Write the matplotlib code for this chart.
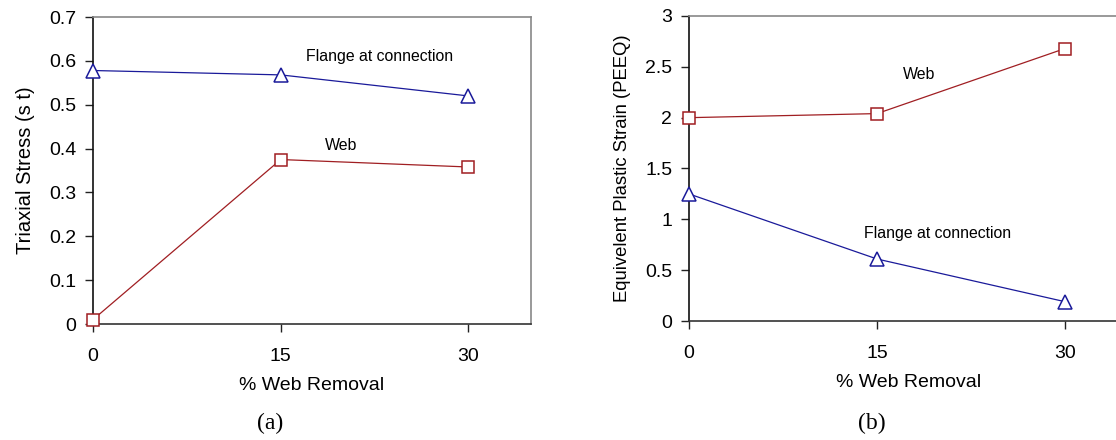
import matplotlib
matplotlib.use('Agg')
import matplotlib.pyplot as plt

plt.rcParams['font.family'] = ['Liberation Sans', 'DejaVu Sans']

# data
removal = [0, 15, 30]
xticks = [0, 15, 30]

stress_flange = [0.578, 0.568, 0.520]
stress_web = [0.010, 0.375, 0.358]

peeq_web = [2.00, 2.04, 2.68]
peeq_flange = [1.25, 0.61, 0.19]

blue = '#1a1a9a'
red = '#a01e22'


def style_axes(ax, ylim, yticks, ylabel, ylabel_size):
    ax.set_xlim(0, 35)
    ax.set_ylim(*ylim)
    ax.set_xticks(xticks)
    ax.set_yticks(yticks)
    ax.set_yticklabels([('%g' % v) for v in yticks])
    ax.tick_params(axis='both', direction='out', length=6, width=1,
                   labelsize=14, color='#222222')
    ax.tick_params(axis='y', pad=6)
    ax.tick_params(axis='x', pad=11)
    ax.spines['left'].set_color('#111111')
    ax.spines['bottom'].set_color('#333333')
    ax.spines['top'].set_color('#888888')
    ax.spines['right'].set_color('#888888')
    for s in ax.spines.values():
        s.set_linewidth(1.2)
    ax.set_xlabel('% Web Removal', fontsize=14, labelpad=9)
    ax.set_ylabel(ylabel, fontsize=ylabel_size, labelpad=10)


def plot_series(ax, y, color, marker, ms):
    ax.plot(removal, y, color=color, lw=0.9, marker=marker, ms=ms,
            mfc='white', mec=color, mew=1.1, clip_on=False, zorder=3)


fig = plt.figure(figsize=(11.16, 4.4), dpi=100)

# (a) triaxial stress
ax1 = fig.add_axes([93 / 1116, 116 / 440, 438 / 1116, 307 / 440])
plot_series(ax1, stress_flange, blue, '^', 10.5)
plot_series(ax1, stress_web, red, 's', 8.5)
style_axes(ax1, (0, 0.7), [0, 0.1, 0.2, 0.3, 0.4, 0.5, 0.6, 0.7],
           'Triaxial Stress (s t)', 14.5)
ax1.text(17.0, 0.609, 'Flange at connection', fontsize=11.4, va='center')
ax1.text(18.5, 0.406, 'Web', fontsize=11.4, va='center')

# (b) equivalent plastic strain
ax2 = fig.add_axes([689 / 1116, 119 / 440, 438.6 / 1116, 305 / 440])
plot_series(ax2, peeq_web, red, 's', 8.5)
plot_series(ax2, peeq_flange, blue, '^', 10.5)
style_axes(ax2, (0, 3), [0, 0.5, 1, 1.5, 2, 2.5, 3],
           'Equivelent Plastic Strain (PEEQ)', 13.3)
ax2.text(17.1, 2.42, 'Web', fontsize=11.4, va='center')
ax2.text(14.0, 0.86, 'Flange at connection', fontsize=11.4, va='center')

fig.text(270 / 1116, 1 - 423 / 440, '(a)', fontsize=17, ha='center',
         va='center', family='Liberation Serif')
fig.text(872 / 1116, 1 - 423 / 440, '(b)', fontsize=17, ha='center',
         va='center', family='Liberation Serif')

fig.savefig('out.png', dpi=100)
